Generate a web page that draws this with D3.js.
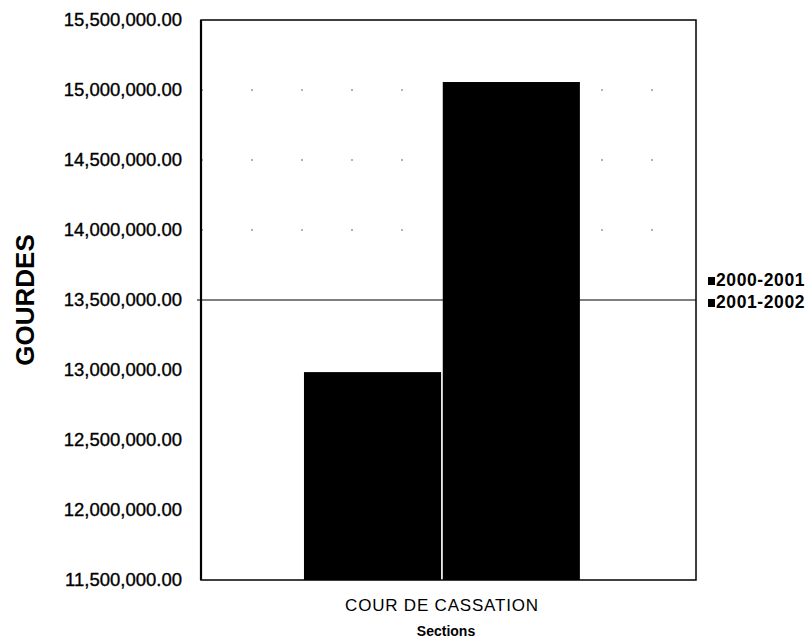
<!DOCTYPE html>
<html><head><meta charset="utf-8">
<script src="https://cdn.jsdelivr.net/npm/d3@7"></script>
<style>body{margin:0;background:#fff}text{font-family:"Liberation Sans",Arial,sans-serif}</style>
</head><body>
<script>
const categories = ["COUR DE CASSATION"];
const seriesNames = ["2000-2001", "2001-2002"];
const values2000 = [12985000];
const values2001 = [15057000];
const yTicks = [11500000,12000000,12500000,13000000,13500000,14000000,14500000,15000000,15500000];
const solidGrid = [13500000];
const faintGrid = [14000000,14500000,15000000];

const W = 812, H = 638;
const m = {left: 201, right: 696, top: 20, bottom: 580};
const svg = d3.select("body").append("svg").attr("width", W).attr("height", H);

const y = d3.scaleLinear().domain([11500000, 15500000]).range([m.bottom, m.top]);
const x = d3.scaleBand().domain(categories).range([m.left, m.right]).paddingOuter(0.397).paddingInner(0).align(0.47);
const xs = d3.scaleBand().domain(seriesNames).range([0, x.bandwidth()]).paddingInner(0.012);
const colors = d3.scaleOrdinal().domain(seriesNames).range(["#000", "#000"]);

// faint grid (scanned dotted)
svg.append("g").selectAll("line").data(faintGrid).join("line")
  .attr("x1", m.left).attr("x2", m.right).attr("y1", d => y(d)).attr("y2", d => y(d))
  .attr("stroke", "#666").attr("stroke-width", 1).attr("stroke-dasharray", "2,48");

// bars
const data = categories.map((c, i) => ({c, vals: [values2000[i], values2001[i]]}));
const g = svg.append("g");
data.forEach(d => {
  g.selectAll(null).data(d.vals.map((v, j) => ({s: seriesNames[j], v}))).join("rect")
    .attr("x", e => x(d.c) + xs(e.s)).attr("width", xs.bandwidth())
    .attr("y", e => y(e.v)).attr("height", e => m.bottom - y(e.v))
    .attr("fill", e => colors(e.s));
});

// solid gridline
svg.append("g").selectAll("line").data(solidGrid).join("line")
  .attr("x1", m.left - 4).attr("x2", m.right).attr("y1", d => y(d)).attr("y2", d => y(d))
  .attr("stroke", "#000").attr("stroke-width", 1);

// frame
svg.append("rect").attr("x", m.left).attr("y", m.top).attr("width", m.right - m.left).attr("height", m.bottom - m.top)
  .attr("fill", "none").attr("stroke", "#000").attr("stroke-width", 1.5);
svg.append("line").attr("x1", m.left).attr("x2", m.left).attr("y1", m.top).attr("y2", m.bottom)
  .attr("stroke", "#000").attr("stroke-width", 2.2);

// y axis
const fmt = d3.format(",.2f");
const yAxis = svg.append("g").attr("transform", `translate(${m.left},0)`)
  .call(d3.axisLeft(y).tickValues(yTicks).tickFormat(fmt).tickSize(0).tickPadding(19));
yAxis.select(".domain").remove();
yAxis.selectAll("text").attr("font-size", 18.5).attr("fill", "#000")
  .attr("font-family", '"Liberation Sans",Arial,sans-serif').attr("stroke", "#000").attr("stroke-width", 0.35);

// x axis labels
const xAxis = svg.append("g").attr("transform", `translate(0,${m.bottom})`)
  .call(d3.axisBottom(x).tickSize(0).tickPadding(19));
xAxis.select(".domain").remove();
xAxis.selectAll("text").attr("font-size", 17).attr("fill", "#000")
  .attr("font-family", '"Liberation Sans",Arial,sans-serif').attr("letter-spacing", 0.8);

svg.append("text").attr("x", 446).attr("y", 636).attr("text-anchor", "middle")
  .attr("font-size", 14).attr("font-weight", "bold").text("Sections");

svg.append("text").attr("transform", "translate(34,300) rotate(-90)").attr("text-anchor", "middle")
  .attr("font-size", 26).attr("font-weight", "bold").text("GOURDES");

// legend
const lg = svg.append("g").attr("transform", "translate(708,281)");
seriesNames.forEach((s, i) => {
  lg.append("rect").attr("x", 0).attr("y", i * 22 - 4).attr("width", 7).attr("height", 8).attr("fill", colors(s));
  lg.append("text").attr("x", 8).attr("y", i * 22 + 5).attr("font-size", 17.5).attr("font-weight", "bold")
    .attr("letter-spacing", 0.6).text(s);
});
</script>
</body></html>
